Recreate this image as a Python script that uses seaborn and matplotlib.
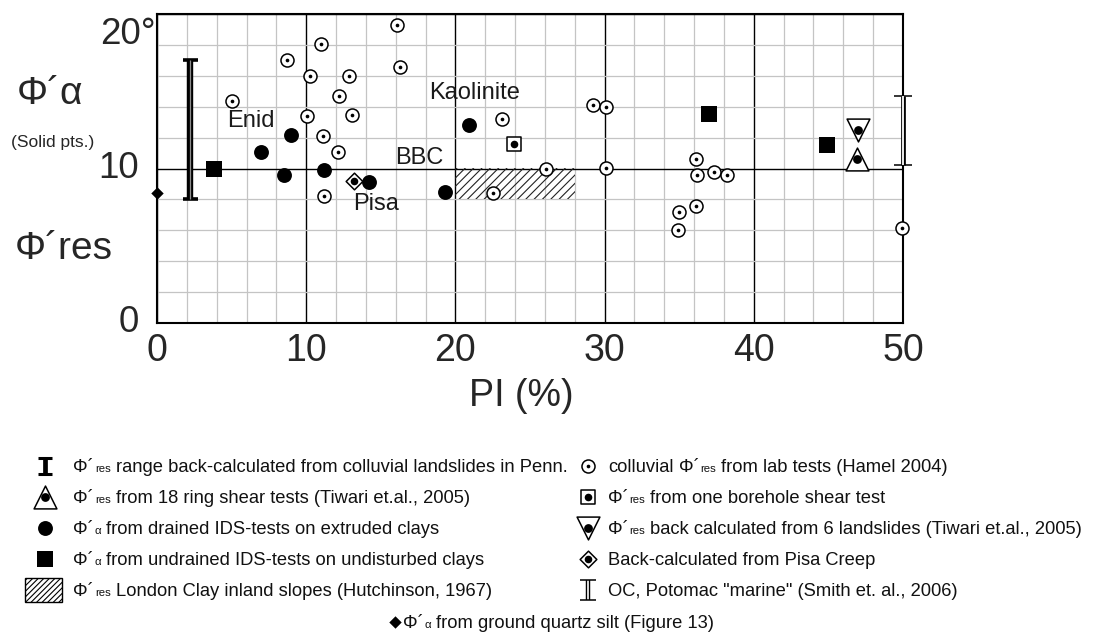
import numpy as np
import matplotlib
matplotlib.use("Agg")
import matplotlib.pyplot as plt
from matplotlib import font_manager
from matplotlib.patches import Rectangle
import seaborn as sns

# ---------------- data ----------------
colluvial_pi = [5.0, 8.7, 10.25, 11.0, 12.9, 12.2, 10.05, 13.1, 11.1, 12.1, 11.2,
                16.1, 16.3, 23.1, 22.5, 26.1, 29.2, 30.1, 30.1, 36.1, 36.2, 37.3,
                38.2, 36.1, 35.0, 34.9, 49.9]
colluvial_phi = [14.4, 17.0, 16.0, 18.05, 16.0, 14.7, 13.4, 13.45, 12.1, 11.1, 8.2,
                 19.3, 16.6, 13.2, 8.4, 10.0, 14.1, 14.0, 10.05, 10.6, 9.55, 9.8,
                 9.55, 7.6, 7.2, 6.05, 6.15]
drained_pi = [7.0, 9.0, 8.5, 11.2, 14.2, 19.3, 20.9]
drained_phi = [11.1, 12.2, 9.6, 9.9, 9.1, 8.5, 12.8]
undrained_pi = [3.8, 37.0, 44.9]
undrained_phi = [10.0, 13.5, 11.5]
borehole_pi, borehole_phi = [23.9], [11.6]
ring_pi, ring_phi = [46.9], [10.6]
landslide_pi, landslide_phi = [47.0], [12.5]
pisa_pi, pisa_phi = [13.2], [9.2]
quartz_pi, quartz_phi = [0.0], [8.4]
penn_pi, penn_range = 2.2, (8.0, 17.0)
potomac_pi, potomac_range = 50.0, (10.2, 14.7)
london_pi, london_phi = (20.0, 28.0), (8.0, 10.0)
site_names = ["Enid", "Kaolinite", "BBC", "Pisa"]
site_pi = [6.3, 21.3, 17.55, 14.7]
site_phi = [13.05, 14.9, 10.7, 7.7]
x_ticks = [0, 10, 20, 30, 40, 50]
y_ticks = [0, 10, 20]
y_tick_labels = ["0", "10", "20°"]

# ---------------- style ----------------
W, H, DPI = 1093, 641, 100
sns.set_style("white")
installed = {f.name for f in font_manager.fontManager.ttflist}
NARROW = "Liberation Sans Narrow" if "Liberation Sans Narrow" in installed else "Liberation Sans"
LEG_SIZE = 15.5 if NARROW == "Liberation Sans Narrow" else 13.2
plt.rcParams["font.family"] = ["Liberation Sans", "DejaVu Sans"]
plt.rcParams["hatch.linewidth"] = 0.8

fig = plt.figure(figsize=(W / DPI, H / DPI), dpi=DPI)
ax = fig.add_axes([157 / W, 1 - 323 / H, (903 - 157) / W, (323 - 14) / H])
ax.set_xlim(0, 50)
ax.set_ylim(0, 20)
ax.set_xticks(x_ticks)
ax.set_xticks(np.arange(0, 51, 2), minor=True)
ax.set_yticks(y_ticks)
ax.set_yticks(np.arange(0, 21, 2), minor=True)
ax.grid(which="minor", color="#c4c4c4", linewidth=0.9)
ax.grid(which="major", color="black", linewidth=1.0)
ax.set_axisbelow(True)
ax.tick_params(which="both", length=0)
ax.set_yticklabels([])
ax.set_xticklabels([str(v) for v in x_ticks], fontsize=27)
ax.tick_params(axis="x", pad=7)
for sp in ax.spines.values():
    sp.set_visible(True)
    sp.set_color("black")
    sp.set_linewidth(1.5)

# y tick labels, right-aligned left of the frame
for val, lab in zip(y_ticks, y_tick_labels):
    top = lab.endswith("°")
    ax.annotate(lab, xy=(0, val), xycoords=("axes fraction", "data"),
                xytext=(-1 if top else -13, -2 if top else 0), textcoords="offset points",
                ha="right", va="top" if top else "center", fontsize=26.5)

# ---------------- marker styles ----------------
OPEN = dict(color="white", edgecolor="black", linewidth=1.1)
ST = {
    "colluvial": dict(marker="o", s=88, **OPEN),
    "drained": dict(marker="o", s=115, color="black", linewidth=0),
    "undrained": dict(marker="s", s=125, color="black", linewidth=0),
    "borehole": dict(marker="s", s=105, **OPEN),
    "ring": dict(marker="^", s=270, **OPEN),
    "landslide": dict(marker="v", s=270, **OPEN),
    "pisa": dict(marker="D", s=72, **OPEN),
    "quartz": dict(marker="D", s=40, color="black", linewidth=0),
}
DOT_SIZE = {"colluvial": 7, "borehole": 30, "ring": 40, "landslide": 40, "pisa": 30}


def pts(axis, x, y, kind, z=4):
    sns.scatterplot(x=x, y=y, ax=axis, legend=False, zorder=z, clip_on=False, **ST[kind])
    if kind in DOT_SIZE:
        sns.scatterplot(x=x, y=y, ax=axis, legend=False, zorder=z + 0.1, clip_on=False,
                        marker="o", s=DOT_SIZE[kind], color="black", linewidth=0)


# London Clay band
ax.add_patch(Rectangle((london_pi[0], london_phi[0]), london_pi[1] - london_pi[0],
                       london_phi[1] - london_phi[0], facecolor="none", edgecolor="#222222",
                       linewidth=0, hatch="////", zorder=1.5))

pts(ax, colluvial_pi, colluvial_phi, "colluvial")
pts(ax, pisa_pi, pisa_phi, "pisa", z=3.5)
pts(ax, drained_pi, drained_phi, "drained")
pts(ax, undrained_pi, undrained_phi, "undrained")
pts(ax, borehole_pi, borehole_phi, "borehole")
pts(ax, ring_pi, ring_phi, "ring")
pts(ax, landslide_pi, landslide_phi, "landslide")
pts(ax, quartz_pi, quartz_phi, "quartz")


def range_bar(axis, x, lo, hi, lw, cap, capw, inner, inner_color):
    mid = (lo + hi) / 2
    eb = axis.errorbar([x], [mid], yerr=[[mid - lo], [hi - mid]], fmt="none", ecolor="black",
                       elinewidth=lw, capsize=cap, capthick=capw, zorder=5)
    for a in list(eb.lines[1]) + list(eb.lines[2]):
        a.set_clip_on(False)
    axis.vlines(x, lo, hi, color=inner_color, linewidth=inner, zorder=5.1, clip_on=False)


range_bar(ax, penn_pi, *penn_range, lw=4.6, cap=5.4, capw=2.6, inner=0.9, inner_color="#8c8c8c")
range_bar(ax, potomac_pi, *potomac_range, lw=3.4, cap=6.5, capw=1.1, inner=1.3, inner_color="white")

for name, x, y in zip(site_names, site_pi, site_phi):
    ax.text(x, y, name, ha="center", va="center", fontsize=17, color="#1a1a1a", zorder=6)

# axis titles
fig.text(17 / W, 1 - 104 / H, "Φ´α", fontsize=28, va="baseline", ha="left")
fig.text(53 / W, 1 - 143 / H, "(Solid pts.)", fontsize=12.5, va="center", ha="center",
         family=NARROW)
fig.text(15 / W, 1 - 259 / H, "Φ´res", fontsize=28, va="baseline", ha="left")
fig.text(521 / W, 1 - 396 / H, "PI (%)", fontsize=27, va="center", ha="center")

# ---------------- key ----------------
lg = fig.add_axes([0, 0, 1, 1])
lg.set_xlim(0, W)
lg.set_ylim(H, 0)
lg.axis("off")
renderer = fig.canvas.get_renderer()


def write_runs(x, y, parts):
    for txt, rel, gap in parts:
        t = lg.text(x, y, txt, fontsize=LEG_SIZE * rel, family=NARROW, va="baseline",
                    ha="left", color="#111111")
        x += t.get_window_extent(renderer).width + gap


def phi(sub, rest):
    return [("Φ´", 1, 1), (sub, 0.62, 5), (rest, 1, 0)]


rows_y = [466, 497, 528, 559, 590]
lx, ltx = 45, 73
rx, rtx = 588, 608

# left column
y = rows_y[0]
lg.vlines(lx, y - 8, y + 8, color="black", linewidth=3.4)
lg.hlines([y - 8, y + 8], lx - 7, lx + 7, color="black", linewidth=2.2)
write_runs(ltx, y + 6, phi("res", "range back-calculated from colluvial landslides in Penn."))
y = rows_y[1]
pts(lg, [lx], [y], "ring")
write_runs(ltx, y + 6, phi("res", "from 18 ring shear tests (Tiwari et.al., 2005)"))
y = rows_y[2]
pts(lg, [lx], [y], "drained")
write_runs(ltx, y + 6, phi("α", "from drained IDS-tests on extruded clays"))
y = rows_y[3]
pts(lg, [lx], [y], "undrained")
write_runs(ltx, y + 6, phi("α", "from undrained IDS-tests on undisturbed clays"))
y = rows_y[4]
lg.add_patch(Rectangle((25, y - 12), 37, 24, facecolor="none", edgecolor="black",
                       linewidth=1.0, hatch="//////"))
write_runs(ltx, y + 6, phi("res", "London Clay inland slopes (Hutchinson, 1967)"))

# right column
y = rows_y[0]
pts(lg, [rx], [y], "colluvial")
write_runs(rtx, y + 6, [("colluvial", 1, 5)] + phi("res", "from lab tests (Hamel 2004)"))
y = rows_y[1]
pts(lg, [rx], [y], "borehole")
write_runs(rtx, y + 6, phi("res", "from one borehole shear test"))
y = rows_y[2]
pts(lg, [rx], [y], "landslide")
write_runs(rtx, y + 6, phi("res", "back calculated from 6 landslides (Tiwari et.al., 2005)"))
y = rows_y[3]
pts(lg, [rx], [y], "pisa")
write_runs(rtx, y + 6, [("Back-calculated from Pisa Creep", 1, 0)])
y = rows_y[4]
lg.vlines(rx, y - 10, y + 10, color="black", linewidth=3.2)
lg.vlines(rx, y - 10, y + 10, color="white", linewidth=1.2)
lg.hlines([y - 10, y + 10], rx - 8, rx + 8, color="black", linewidth=1.1)
write_runs(rtx, y + 6, [('OC, Potomac "marine" (Smith et. al., 2006)', 1, 0)])

# bottom line
y = 622
pts(lg, [395], [y], "quartz")
write_runs(403, y + 6, phi("α", "from ground quartz silt (Figure 13)"))

fig.savefig("out.png", dpi=DPI)
